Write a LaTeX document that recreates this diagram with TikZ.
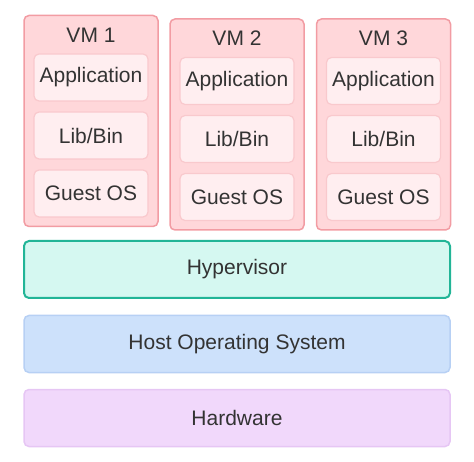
\documentclass[tikz,border=0pt]{standalone}
\usepackage{fontspec}
\setmainfont{Liberation Sans}
\usepackage{tikz}
\definecolor{vmfill}{HTML}{FFD7DA}
\definecolor{vmline}{HTML}{F29CA3}
\definecolor{partfill}{HTML}{FFEEF0}
\definecolor{partline}{HTML}{F9C9CD}
\definecolor{hypfill}{HTML}{D5F8F1}
\definecolor{hypline}{HTML}{22B597}
\definecolor{hostfill}{HTML}{CDE1FB}
\definecolor{hostline}{HTML}{B7D0F4}
\definecolor{hwfill}{HTML}{F1D8FB}
\definecolor{hwline}{HTML}{E6C6F4}
\definecolor{txt}{HTML}{333333}
\tikzstyle{vm} = [rectangle, draw=vmline, fill=vmfill, line width=1.5pt,
    rounded corners=5pt, minimum width=134pt, minimum height=211pt]
\tikzstyle{part} = [rectangle, draw=partline, fill=partfill, line width=1.2pt,
    rounded corners=5pt, minimum width=114pt, minimum height=47pt, text=txt]
\tikzstyle{title} = [text=txt]
\tikzstyle{layer} = [rectangle, rounded corners=5pt, line width=1.5pt,
    minimum width=426pt, minimum height=57pt, text=txt]

\begin{document}
\begin{tikzpicture}[x=1pt, y=-1pt, node distance=58pt, font=\fontsize{21}{25}\selectfont]
    \useasboundingbox (0,0) rectangle (474,462);
    % Virtual machines
    \node [vm] (vm1) at (91,121) {};
    \node [title] (name1) at (91,35) {VM 1};
    \node [part] (app1) at (91,77.5) {Application};
    \node [part, below of=app1] (lib1) {Lib/Bin};
    \node [part, below of=lib1] (os1) {Guest OS};
    \node [vm] (vm2) at (237,124.5) {};
    \node [title] (name2) at (237,38) {VM 2};
    \node [part] (app2) at (237,81) {Application};
    \node [part, below of=app2] (lib2) {Lib/Bin};
    \node [part, below of=lib2] (os2) {Guest OS};
    \node [vm] (vm3) at (383.5,124.5) {};
    \node [title] (name3) at (383.5,38) {VM 3};
    \node [part] (app3) at (383.5,81) {Application};
    \node [part, below of=app3] (lib3) {Lib/Bin};
    \node [part, below of=lib3] (os3) {Guest OS};
    % Layers below
    \node [layer, draw=hypline, fill=hypfill, line width=2pt] (hyper) at (237,269.5) {Hypervisor};
    \node [layer, draw=hostline, fill=hostfill] (host) at (237,344) {Host Operating System};
    \node [layer, draw=hwline, fill=hwfill] (hw) at (237,418) {Hardware};
\end{tikzpicture}
\end{document}
